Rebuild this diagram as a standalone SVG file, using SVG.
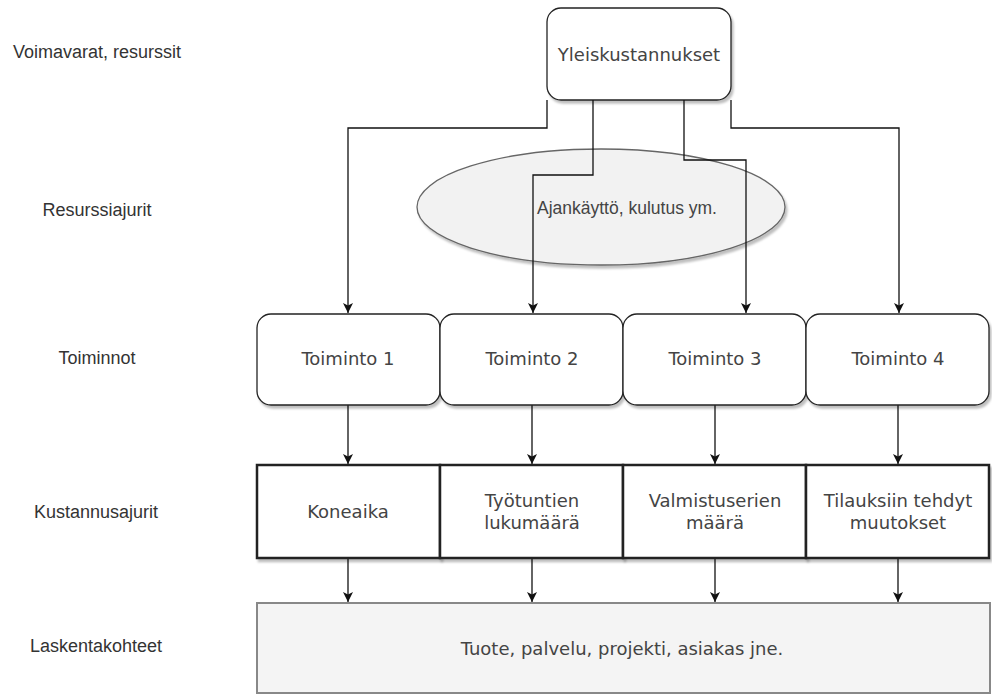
<svg xmlns="http://www.w3.org/2000/svg" width="992" height="695" viewBox="0 0 992 695">
<style>
.lbl{font-family:"Liberation Sans",Arial,sans-serif;font-size:18px;fill:#333;text-anchor:middle;dominant-baseline:central}
.ntx{font-family:"DejaVu Sans",Verdana,sans-serif;font-size:18px;fill:#444;text-anchor:middle;dominant-baseline:central}
.etx{font-family:"Liberation Sans",Arial,sans-serif;font-size:17.5px;fill:#444;dominant-baseline:central}
.rnd{fill:#fff;stroke:#222;stroke-width:1.3}
.thk{fill:#fff;stroke:#222;stroke-width:2.5}
.con{fill:none;stroke:#111;stroke-width:1.3}
</style>
<defs>
<marker id="ah" markerUnits="userSpaceOnUse" markerWidth="12" markerHeight="12" refX="10" refY="5" orient="auto">
<path d="M0,0 L10,5 L0,10 L2.5,5 Z" fill="#111"/>
</marker>
<filter id="sh" x="-5%" y="-5%" width="115%" height="120%">
<feDropShadow dx="2" dy="3" stdDeviation="1.2" flood-color="#000" flood-opacity="0.25"/>
</filter>
</defs>
<g id="labels">
<text class="lbl" x="97" y="52">Voimavarat, resurssit</text>
<text class="lbl" x="97" y="210">Resurssiajurit</text>
<text class="lbl" x="97" y="358">Toiminnot</text>
<text class="lbl" x="96" y="512">Kustannusajurit</text>
<text class="lbl" x="96" y="646">Laskentakohteet</text>
</g>
<g id="ellipse">
<ellipse cx="601" cy="207" rx="184" ry="58" fill="#f2f2f2" stroke="#666" stroke-width="1.3" filter="url(#sh)"/>
<text class="etx" x="537" y="208">Ajankäyttö, kulutus ym.</text>
</g>
<g id="top">
<rect class="rnd" x="547" y="8" width="184" height="92" rx="14" filter="url(#sh)"/>
<text class="ntx" x="639" y="54">Yleiskustannukset</text>
</g>
<g id="connectors">
<path class="con" d="M547,100 V128 H348 V313" marker-end="url(#ah)"/>
<path class="con" d="M593,100 V175 H533 V313" marker-end="url(#ah)"/>
<path class="con" d="M684,100 V160 H746 V313" marker-end="url(#ah)"/>
<path class="con" d="M731,100 V128 H899 V313" marker-end="url(#ah)"/>
<path class="con" d="M348,405 V464" marker-end="url(#ah)"/>
<path class="con" d="M532,405 V464" marker-end="url(#ah)"/>
<path class="con" d="M715,405 V464" marker-end="url(#ah)"/>
<path class="con" d="M898,405 V464" marker-end="url(#ah)"/>
<path class="con" d="M348,558 V602" marker-end="url(#ah)"/>
<path class="con" d="M532,558 V602" marker-end="url(#ah)"/>
<path class="con" d="M715,558 V602" marker-end="url(#ah)"/>
<path class="con" d="M898,558 V602" marker-end="url(#ah)"/>
</g>
<g id="t1"><rect class="rnd" x="257" y="314" width="183" height="91" rx="14" filter="url(#sh)"/><text class="ntx" x="348" y="358">Toiminto 1</text></g>
<g id="t2"><rect class="rnd" x="440" y="314" width="183" height="91" rx="14" filter="url(#sh)"/><text class="ntx" x="532" y="358">Toiminto 2</text></g>
<g id="t3"><rect class="rnd" x="623" y="314" width="183" height="91" rx="14" filter="url(#sh)"/><text class="ntx" x="715" y="358">Toiminto 3</text></g>
<g id="t4"><rect class="rnd" x="806" y="314" width="183" height="91" rx="14" filter="url(#sh)"/><text class="ntx" x="898" y="358">Toiminto 4</text></g>
<g id="k1"><rect class="thk" x="257" y="465" width="183" height="93" filter="url(#sh)"/><text class="ntx" x="348" y="511">Koneaika</text></g>
<g id="k2"><rect class="thk" x="440" y="465" width="183" height="93" filter="url(#sh)"/><text class="ntx" x="532" y="500">Työtuntien</text><text class="ntx" x="532" y="522">lukumäärä</text></g>
<g id="k3"><rect class="thk" x="623" y="465" width="183" height="93" filter="url(#sh)"/><text class="ntx" x="715" y="500">Valmistuserien</text><text class="ntx" x="715" y="522">määrä</text></g>
<g id="k4"><rect class="thk" x="806" y="465" width="183" height="93" filter="url(#sh)"/><text class="ntx" x="898" y="500">Tilauksiin tehdyt</text><text class="ntx" x="898" y="522">muutokset</text></g>
<g id="bottom"><rect x="257" y="603" width="733" height="90" fill="#f4f4f4" stroke="#888" stroke-width="2"/><text class="ntx" x="622" y="648">Tuote, palvelu, projekti, asiakas jne.</text></g>
</svg>
